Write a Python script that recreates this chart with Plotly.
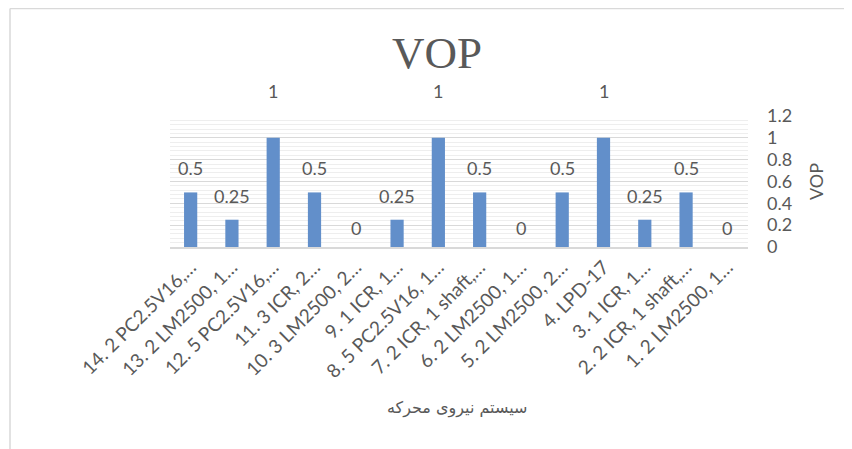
import plotly.graph_objects as go

categories = [
    "14. 2 PC2.5V16,…", "13. 2 LM2500, 1…", "12. 5 PC2.5V16,…", "11. 3 ICR, 2…",
    "10. 3 LM2500, 2…", "9. 1 ICR, 1…", "8. 5 PC2.5V16, 1…", "7. 2 ICR, 1 shaft,…",
    "6. 2 LM2500, 1…", "5. 2 LM2500, 2…", "4. LPD-17", "3. 1 ICR, 1…",
    "2. 2 ICR, 1 shaft,…", "1. 2 LM2500, 1…",
]
vop_values = [0.5, 0.25, 1, 0.5, 0, 0.25, 1, 0.5, 0, 0.5, 1, 0.25, 0.5, 0]
y_ticks = [0, 0.2, 0.4, 0.6, 0.8, 1, 1.2]

TEXT = "#595959"
LABEL_FONT = "Lato, 'Open Sans', sans-serif"

# page offset (browser body margin)
OFF = 8
W, H = 852 - OFF, 449 - OFF
# plot area geometry in screen pixels, converted to figure pixels
L, R, T, B = 170 - OFF, 748 - OFF, 116 - OFF, 247 - OFF


def px_x(p):
    return (p - OFF - L) / (R - L)


def px_y(p):
    return (B - (p - OFF)) / (B - T)


fig = go.Figure()
fig.add_trace(go.Bar(
    x=categories, y=vop_values,
    marker=dict(color="#628fca", line=dict(width=0)),
    hoverinfo="x+y",
))


def label_shift(v):
    if v >= 1:
        return 47
    if v == 0:
        return 19
    return 24


annotations = []
for c, v in zip(categories, vop_values):
    annotations.append(dict(
        x=c, y=v, xref="x", yref="y", text=f"{v:g}", showarrow=False,
        yanchor="middle", yshift=label_shift(v),
        font=dict(family=LABEL_FONT, size=18, color=TEXT),
    ))

annotations.append(dict(
    x=px_x(457), y=px_y(408), xref="paper", yref="paper",
    text="سیستم نیروی محرکه", showarrow=False,
    xanchor="center", yanchor="middle",
    font=dict(family="DejaVu Sans, sans-serif", size=16, color=TEXT),
))

shapes = [
    dict(type="line", xref="paper", yref="paper",
         x0=px_x(10), x1=px_x(852), y0=px_y(8.5), y1=px_y(8.5),
         line=dict(color="#d9d9d9", width=1.5)),
    dict(type="line", xref="paper", yref="paper",
         x0=px_x(10), x1=px_x(10), y0=px_y(8.5), y1=px_y(449),
         line=dict(color="#d9d9d9", width=1.5)),
]

fig.update_layout(
    width=W, height=H,
    margin=dict(l=L, r=W - R, t=T, b=H - B, autoexpand=False),
    paper_bgcolor="white", plot_bgcolor="white",
    bargap=0.68,
    showlegend=False,
    title=dict(
        text="VOP", xref="container", yref="container",
        x=(437 - OFF) / W, y=1 - (52 - OFF) / H, xanchor="center", yanchor="middle",
        font=dict(family="Liberation Serif, serif", size=45, color=TEXT),
    ),
    xaxis=dict(
        type="category", tickangle=-45, automargin=False,
        tickfont=dict(family=LABEL_FONT, size=19, color=TEXT),
        showgrid=False, showline=True, linecolor="#d9d9d9", linewidth=1.5,
        ticks="",
    ),
    yaxis=dict(
        side="right", range=[0, 1.2], tickvals=y_ticks,
        ticktext=[f"{t:g}" for t in y_ticks], automargin=False,
        tickfont=dict(family=LABEL_FONT, size=18, color=TEXT),
        ticklabelstandoff=18,
        showgrid=True, gridcolor="#d9d9d9", gridwidth=1,
        minor=dict(dtick=0.04, showgrid=True, gridcolor="#eeeeee", gridwidth=1),
        zeroline=False, showline=False,
        title=dict(text="VOP", standoff=19,
                   font=dict(family=LABEL_FONT, size=18, color=TEXT)),
    ),
    annotations=annotations,
    shapes=shapes,
)

fig.write_html("out.html")
